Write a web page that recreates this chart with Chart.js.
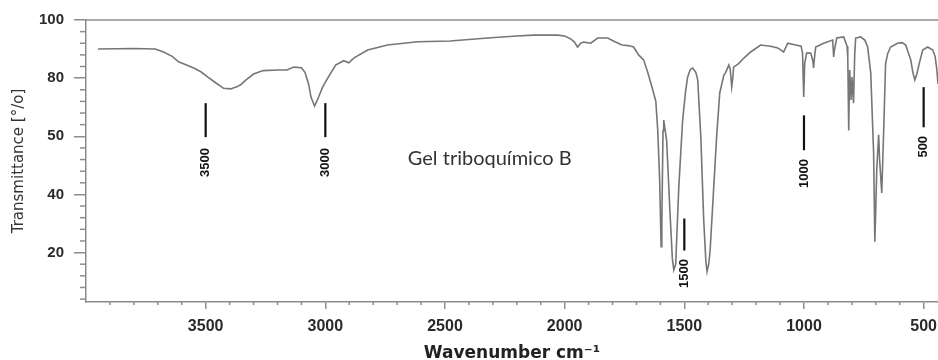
<!DOCTYPE html>
<html>
<head>
<meta charset="utf-8">
<script src="https://cdn.jsdelivr.net/npm/chart.js@4.4.1/dist/chart.umd.min.js"></script>
<style>
  html, body { margin: 0; padding: 0; background: #fff; }
  #wrap { width: 938px; height: 360px; }
</style>
</head>
<body>
<div id="wrap"><canvas id="irChart"></canvas></div>
<script>
// Espectro IR: número de onda (cm-1) y transmitancia (%)
const wavenumbers = [
  3950, 3800, 3710, 3676, 3640, 3613, 3580, 3550, 3520, 3492, 3460, 3425, 3396, 3370, 3354, 3330,
  3300, 3260, 3200, 3160, 3132, 3100, 3085, 3070, 3060, 3045, 3036, 3028, 3011, 2990, 2957, 2923,
  2902, 2880, 2823, 2740, 2614, 2478, 2322, 2200, 2129, 2030, 2000, 1975, 1960, 1946, 1933, 1920,
  1891, 1862, 1820, 1790, 1760, 1735, 1712, 1691, 1670, 1653, 1632, 1619, 1611, 1603, 1597, 1594,
  1589, 1586, 1580, 1574, 1561, 1550, 1544, 1536, 1523, 1507, 1494, 1486, 1475, 1465, 1452, 1444,
  1431, 1419, 1410, 1405, 1398, 1392, 1377, 1365, 1352, 1335, 1327, 1314, 1308, 1302, 1297, 1294,
  1273, 1250, 1223, 1181, 1140, 1110, 1097, 1085, 1068, 1035, 1012, 1006, 1001, 997, 989, 972,
  963, 960, 955, 951, 918, 880, 876, 872, 863, 834, 820, 817, 813, 810, 809, 803,
  799, 793, 788, 784, 763, 745, 734, 721, 709, 704, 700, 696, 688, 684, 675, 667,
  659, 650, 638, 609, 590, 575, 554, 545, 537, 528, 520, 504, 483, 462, 452, 445, 440
];
const transmittance = [
  90.0, 90.2, 90.0, 89.0, 87.5, 85.6, 84.5, 83.5, 82.2, 80.4, 78.5, 76.5, 76.3, 77.0, 77.7, 79.5,
  81.4, 82.6, 82.8, 82.8, 83.8, 83.6, 82.0, 78.0, 73.5, 70.4, 72.0, 73.5, 77.0, 80.0, 84.5, 86.0,
  85.3, 87.0, 89.7, 91.4, 92.5, 92.8, 93.8, 94.5, 94.8, 94.8, 94.5, 93.5, 92.5, 90.7, 92.0, 92.4,
  92.0, 93.8, 93.8, 92.5, 91.4, 91.2, 90.7, 88.0, 86.3, 82.0, 76.0, 72.0, 62.0, 45.0, 22.0, 30.0,
  62.0, 65.6, 62.0, 58.8, 35.7, 18.0, 14.0, 16.0, 42.6, 65.6, 76.0, 80.4, 83.0, 83.5, 82.0, 79.4,
  59.8, 31.3, 17.0, 13.5, 16.0, 21.0, 42.6, 59.8, 74.9, 81.0, 82.0, 84.5, 83.0, 77.0, 80.4, 83.8,
  85.0, 87.0, 89.0, 91.4, 91.0, 90.4, 89.7, 89.0, 92.0, 91.4, 91.0, 88.6, 73.5, 85.0, 88.6, 88.6,
  86.0, 83.5, 88.0, 90.7, 92.0, 93.1, 87.3, 90.0, 93.8, 94.2, 91.0, 87.3, 62.0, 80.0, 82.8, 72.5,
  80.4, 71.4, 88.0, 93.8, 94.2, 93.0, 90.7, 81.8, 54.3, 23.7, 35.0, 48.5, 60.5, 51.9, 40.5, 62.0,
  85.0, 88.5, 90.7, 92.0, 92.2, 91.4, 86.3, 82.0, 79.4, 81.5, 84.5, 89.7, 90.7, 89.7, 87.5, 83.0, 78.0
];

const xTickValues = [3500, 3000, 2500, 2000, 1500, 1000, 500];
const yTickValues = [20, 40, 60, 80, 100];
const yTickLabels = ['20', '40', '50', '80', '100'];

// Marcas verticales con su etiqueta (en unidades de los ejes)
const markWavenumbers = [3500, 3000, 1500, 1000, 500];
const markLabels = ['3500', '3000', '1500', '1000', '500'];
const markTop = [71.4, 71.4, 31.7, 67.2, 76.9];
const markBottom = [59.7, 59.7, 20.7, 55.2, 63.1];
const markLabelCenter = [51.0, 51.0, 12.8, 47.2, 56.4];

const sampleLabel = 'Gel triboquímico B';
const sampleLabelAt = [2313, 52.4];

const points = wavenumbers.map((w, i) => ({ x: w, y: transmittance[i] }));

const axisGray = '#8c8c8c';

// Borde superior, ticks menores, marcas y rótulo de la muestra
const extras = {
  id: 'extras',
  afterDraw(chart) {
    const { ctx, chartArea, scales: { x, y } } = chart;
    ctx.save();
    ctx.strokeStyle = axisGray;
    ctx.lineWidth = 1.5;
    ctx.beginPath();
    ctx.moveTo(chartArea.left, chartArea.top);
    ctx.lineTo(chartArea.right, chartArea.top);
    ctx.stroke();

    for (let v = 100; v < 4000; v += 100) {
      if (v % 500 === 0 || v < x.min) continue;
      const px = x.getPixelForValue(v);
      ctx.beginPath();
      ctx.moveTo(px, chartArea.bottom);
      ctx.lineTo(px, chartArea.bottom + 3);
      ctx.stroke();
    }
    for (let v = 4; v < 100; v += 4) {
      if (v % 20 === 0 || v < y.min) continue;
      const py = y.getPixelForValue(v);
      ctx.beginPath();
      ctx.moveTo(chartArea.left - 6, py);
      ctx.lineTo(chartArea.left, py);
      ctx.stroke();
    }

    ctx.strokeStyle = '#111';
    ctx.fillStyle = '#111';
    ctx.lineWidth = 2.2;
    ctx.font = 'bold 13px "Liberation Sans"';
    ctx.textAlign = 'center';
    ctx.textBaseline = 'middle';
    markWavenumbers.forEach((w, i) => {
      const px = x.getPixelForValue(w);
      ctx.beginPath();
      ctx.moveTo(px, y.getPixelForValue(markTop[i]));
      ctx.lineTo(px, y.getPixelForValue(markBottom[i]));
      ctx.stroke();
      ctx.save();
      ctx.translate(px, y.getPixelForValue(markLabelCenter[i]));
      ctx.rotate(-Math.PI / 2);
      ctx.fillText(markLabels[i], 0, 0);
      ctx.restore();
    });

    ctx.fillStyle = '#333';
    ctx.font = '20px Lato';
    ctx.fillText(sampleLabel, x.getPixelForValue(sampleLabelAt[0]), y.getPixelForValue(sampleLabelAt[1]));
    ctx.restore();
  }
};

const ctx = document.getElementById('irChart').getContext('2d');
const irChart = new Chart(ctx, {
  type: 'scatter',
  data: {
    datasets: [{
      data: points,
      showLine: true,
      borderColor: '#767676',
      borderWidth: 1.6,
      pointRadius: 0,
      tension: 0,
      fill: false
    }]
  },
  options: {
    responsive: true,
    maintainAspectRatio: false,
    animation: false,
    layout: { padding: { top: 20, right: 0, left: 0, bottom: 0 } },
    plugins: {
      legend: { display: false },
      tooltip: { enabled: false }
    },
    scales: {
      x: {
        type: 'linear',
        reverse: true,
        min: 440,
        max: 4000,
        afterBuildTicks: s => { s.ticks = xTickValues.map(v => ({ value: v })); },
        afterFit: s => { s.height = 58; s.paddingLeft = 0; s.paddingRight = 0; },
        grid: { drawOnChartArea: false, tickLength: 7, color: axisGray, lineWidth: 1.5 },
        border: { color: axisGray, width: 1.5 },
        ticks: {
          font: { family: 'Liberation Sans', size: 16, weight: 'bold' },
          color: '#2a2a2a',
          padding: 8,
          maxRotation: 0,
          autoSkip: false,
          callback: v => String(v)
        },
        title: {
          display: true,
          text: 'Wavenumber cm⁻¹',
          color: '#222',
          font: { family: 'DejaVu Sans', size: 17, weight: 'bold', lineHeight: 0.75 },
          padding: 0
        }
      },
      y: {
        min: 3,
        max: 100,
        afterBuildTicks: s => { s.ticks = yTickValues.map(v => ({ value: v })); },
        afterFit: s => { s.width = 86; s.paddingTop = 0; s.paddingBottom = 0; },
        grid: { drawOnChartArea: false, tickLength: 12, color: axisGray, lineWidth: 1.5 },
        border: { color: axisGray, width: 1.5 },
        ticks: {
          font: { family: 'Liberation Sans', size: 15, weight: 'bold' },
          color: '#2a2a2a',
          padding: 10,
          autoSkip: false,
          callback: (v, i) => yTickLabels[i]
        },
        title: {
          display: true,
          text: 'Transmittance [°/o]',
          color: '#333',
          font: { family: 'DejaVu Sans', size: 15 },
          padding: { top: 10, bottom: 0 }
        }
      }
    }
  },
  plugins: [extras]
});
</script>
</body>
</html>
